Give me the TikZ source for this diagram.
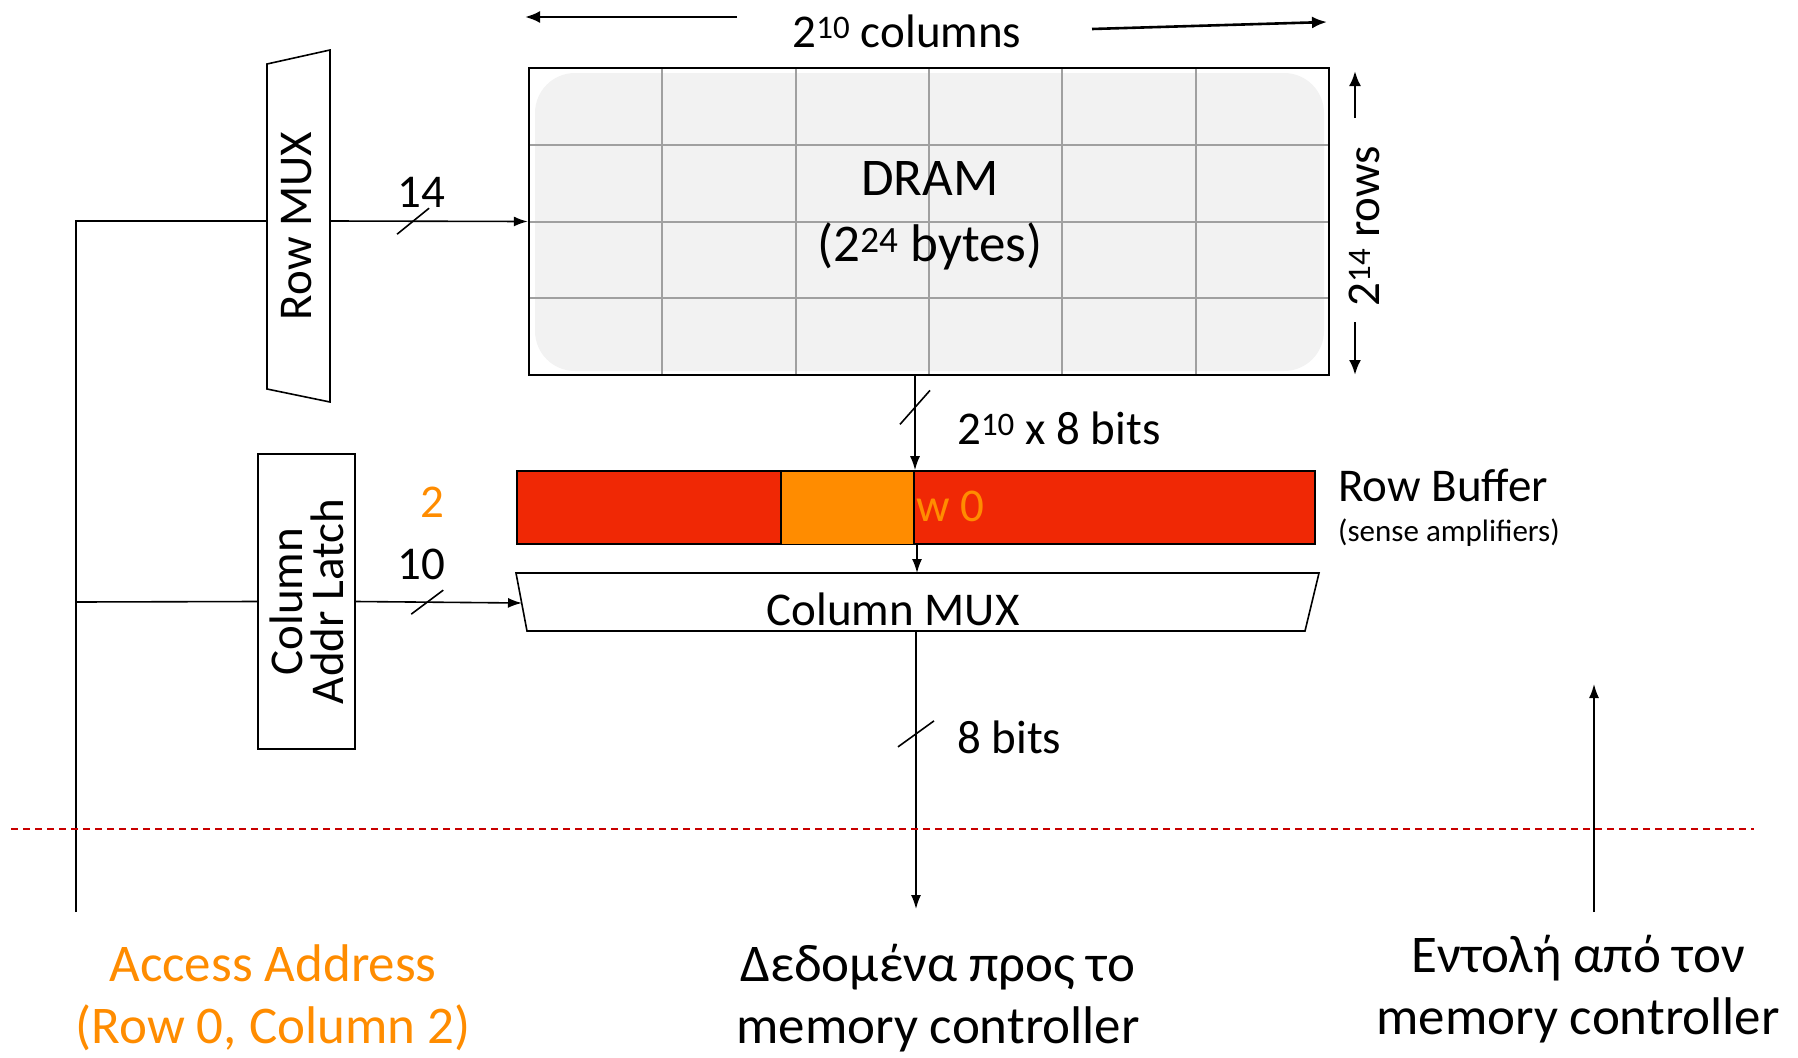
\documentclass[tikz,border=0pt]{standalone}
\usepackage{fontspec}
\setmainfont{Carlito}
\usetikzlibrary{arrows.meta,calc}

\definecolor{bufred}{RGB}{240,40,5}
\definecolor{wordorange}{RGB}{255,140,0}
\definecolor{cellfill}{RGB}{242,242,242}
\definecolor{gridgray}{RGB}{160,160,160}
\definecolor{cutred}{RGB}{200,0,0}

\tikzset{
  wire/.style={line width=1.6pt},
  feed/.style={wire,-{Latex[length=14pt,width=10pt]}},
  bigfeed/.style={line width=2.6pt,-{Latex[length=15pt,width=12pt]}},
  txt/.style={inner sep=0pt,font=\fontsize{47}{56}\selectfont},
  caption/.style={inner sep=0pt,align=center,font=\fontsize{53}{62}\selectfont},
}

\begin{document}
\begin{tikzpicture}[x=1pt,y=-1pt]
\useasboundingbox (0,0) rectangle (1798,1057);

% DRAM array
\fill[cellfill,rounded corners=40pt] (535,73) rectangle (1324,371);
\foreach \x in {1,...,5}
  \draw[gridgray,line width=2pt] (529+133.33*\x,68) -- (529+133.33*\x,375);
\foreach \y in {1,2,3}
  \draw[gridgray,line width=2pt] (529,68+76.75*\y) -- (1329,68+76.75*\y);
\node[draw,line width=2.4pt,minimum width=800pt,minimum height=307pt,inner sep=0pt] (dram) at (929,221.5) {};
\node[inner sep=0pt,align=center,font=\fontsize{53}{66}\selectfont] (dramtext) at (930,216) {DRAM\\(2\textsuperscript{24} bytes)};

% size arrows
\node[txt] (colcount) at (907,31) {2\textsuperscript{10} columns};
\coordinate (colcount l) at (737,17);
\coordinate (colcount le) at (525,17);
\coordinate (colcount r) at (1092,29);
\coordinate (colcount re) at (1327,22);
\draw[bigfeed] (colcount l) -- (colcount le);
\draw[bigfeed] (colcount r) -- (colcount re);

\node[txt,rotate=90] (rowcount) at (1364,226) {2\textsuperscript{14} rows};
\coordinate (rowcount t) at (1355,118);
\coordinate (rowcount te) at (1355,71);
\coordinate (rowcount b) at (1355,322);
\coordinate (rowcount be) at (1355,375);
\draw[bigfeed] (rowcount t) -- (rowcount te);
\draw[bigfeed] (rowcount b) -- (rowcount be);

% row mux
\draw[wire] (267,64) -- (330,50) -- (330,402) -- (267,389) -- cycle;
\node[txt,rotate=90] (rowmux) at (297,226) {Row MUX};
\coordinate (rowmux in) at (267,221);
\coordinate (rowmux out) at (330,221);

% column latch
\node[draw,wire,rotate=90,minimum width=295pt,minimum height=97pt,inner sep=0pt,align=center,
  font=\fontsize{47}{41}\selectfont] (latch) at (306.5,601.5) {Column\\Addr Latch};

% access address bus
\coordinate (addr top) at (76,221);
\coordinate (addr col) at (76,602);
\coordinate (addr bot) at (76,912);
\draw[wire] (addr bot) -- (addr top) -- (rowmux in);
\draw[wire] (addr col) -- (latch.north);

\draw[feed] (rowmux out) -- (dram.west);
\draw[wire] ($(rowmux out)!0.42!(dram.west)$) +(-16,13) -- +(16,-13);
\node[txt] (rowbits) at (421,192) {14};

% row buffer
\node[draw,fill=bufred,wire,minimum width=798pt,minimum height=73pt,inner sep=0pt] (rowbuf) at (916,507.5) {};
\node[draw,fill=wordorange,wire,minimum width=133pt,minimum height=73pt,inner sep=0pt] (word) at (847.5,508) {};
\node[txt,text=wordorange,anchor=west] (rowlabel) at (916,506) {w 0};
\node[txt,anchor=west] (bufname) at (1338,485) {Row Buffer};
\node[inner sep=0pt,anchor=west,font=\fontsize{31}{36}\selectfont] (bufnote) at (1338,533) {(sense amplifiers)};

\coordinate (dram out) at (915,375);
\draw[feed] (dram out) -- (dram out |- rowbuf.north);
\draw[wire] ($(dram out)!0.34!(dram out |- rowbuf.north)$) +(-15,17) -- +(15,-17);
\node[txt,anchor=west] (busbits) at (957,428) {2\textsuperscript{10} x 8 bits};

% column mux
\draw[wire] (516,573) -- (1319,573) -- (1305,631) -- (527,631) -- cycle;
\node[txt] (colmux) at (893,609) {Column MUX};
\coordinate (colmux in) at (522,603);
\coordinate (colmux top) at (917,573);
\coordinate (colmux bot) at (916,631);
\coordinate (word out) at (917,545);
\draw[feed] (word out) -- (colmux top);

\draw[feed] (latch.south) -- (colmux in);
\draw[wire] ($(latch.south)!0.43!(colmux in)$) +(-16,12) -- +(16,-12);
\node[txt] (colbits) at (421,564) {10};
\node[txt,text=wordorange] (colsel) at (432,502) {2};

% data out
\coordinate (data out) at (916,909);
\draw[feed] (colmux bot) -- (data out);
\draw[wire] ($(colmux bot)!0.37!(data out)$) +(-18,13) -- +(18,-13);
\node[txt,anchor=west] (outbits) at (957,737) {8 bits};

% command in
\coordinate (cmd in) at (1594,912);
\coordinate (cmd top) at (1594,684);
\draw[feed] (cmd in) -- (cmd top);

% chip boundary
\draw[cutred,line width=2.5pt,dash pattern=on 7pt off 5pt] (11,829) -- (1754,829);

\node[caption,text=wordorange] (access) at (273,998) {Access Address\\(Row 0, Column 2)};
\node[caption] (dataout) at (938,998) {Δεδομένα προς το\\memory controller};
\node[caption] (cmd) at (1578,989) {Εντολή από τον\\memory controller};

\end{tikzpicture}
\end{document}
